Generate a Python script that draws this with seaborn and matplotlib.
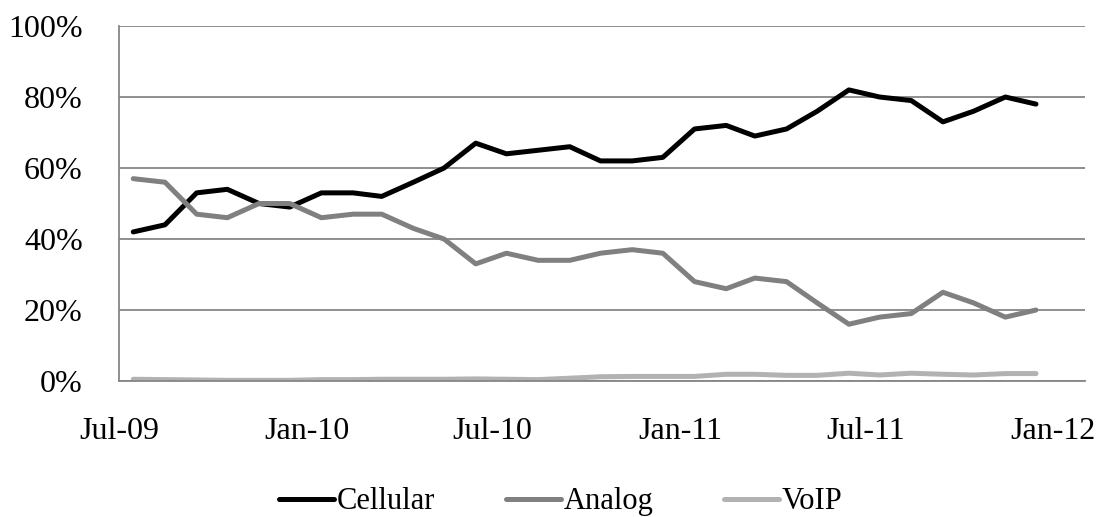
import pandas as pd
import numpy as np
import matplotlib
matplotlib.use('Agg')
import matplotlib.pyplot as plt
import matplotlib.dates as mdates
from matplotlib.ticker import PercentFormatter, MultipleLocator
import seaborn as sns

# monthly readings (mid-month), Jul 2009 - Dec 2011
months = pd.date_range('2009-07-01', periods=30, freq='MS') + pd.Timedelta(days=14)

cellular = [42, 44, 53, 54, 50, 49, 53, 53, 52, 56, 60, 67, 64, 65, 66,
            62, 62, 63, 71, 72, 69, 71, 76, 82, 80, 79, 73, 76, 80, 78]
analog = [57, 56, 47, 46, 50, 50, 46, 47, 47, 43, 40, 33, 36, 34, 34,
          36, 37, 36, 28, 26, 29, 28, 22, 16, 18, 19, 25, 22, 18, 20]
voip = [0.5, 0.4, 0.3, 0.2, 0.2, 0.2, 0.4, 0.4, 0.5, 0.5, 0.5, 0.6, 0.5, 0.4, 0.8,
        1.2, 1.3, 1.3, 1.3, 1.9, 1.9, 1.6, 1.6, 2.2, 1.7, 2.2, 1.9, 1.7, 2.1, 2.1]

series = ['Cellular', 'Analog', 'VoIP']
colors = ['#000000', '#808080', '#b2b2b2']


def long_form(dates, values, names):
    frames = []
    for name, vals in zip(names, values):
        frames.append(pd.DataFrame({'Date': dates, 'Share': np.array(vals) / 100.0, 'Type': name}))
    return pd.concat(frames, ignore_index=True)


df = long_form(months, [cellular, analog, voip], series)

sns.set_style('white')
plt.rcParams['font.family'] = ['Liberation Serif', 'DejaVu Serif']
plt.rcParams['text.color'] = 'black'
plt.rcParams['xtick.labelcolor'] = 'black'
plt.rcParams['ytick.labelcolor'] = 'black'

fig, ax = plt.subplots(figsize=(11.17, 5.17), dpi=100)
fig.subplots_adjust(left=0.1065, right=0.9714, top=0.9497, bottom=0.263)

sns.lineplot(data=df, x='Date', y='Share', hue='Type', hue_order=series,
             palette=colors, linewidth=3.6, ax=ax, legend=True)

grid_col = '#868686'
ax.set_ylim(0, 1)
ax.set_xlim(pd.Timestamp('2009-07-01'), pd.Timestamp('2012-02-01'))
ax.yaxis.set_major_locator(MultipleLocator(0.2))
ax.yaxis.set_major_formatter(PercentFormatter(1.0, decimals=0))
ax.xaxis.set_major_locator(mdates.MonthLocator(bymonth=[1, 7]))
ax.xaxis.set_major_formatter(mdates.DateFormatter('%b-%y'))

ax.grid(axis='y', color=grid_col, linewidth=1.3)
ax.set_axisbelow(True)
for side in ['top', 'right']:
    ax.spines[side].set_visible(False)
for side in ['left', 'bottom']:
    ax.spines[side].set_color(grid_col)
    ax.spines[side].set_linewidth(1.3)
ax.tick_params(axis='both', which='major', direction='out', length=7, width=1.3,
               color=grid_col, labelsize=23, labelcolor='black')
ax.tick_params(axis='x', pad=19)
ax.tick_params(axis='y', pad=19)
ax.set_xlabel('')
ax.set_ylabel('')

ax.legend(loc='lower center', bbox_to_anchor=(0.502, -0.052), bbox_transform=fig.transFigure,
          ncol=3, frameon=False, fontsize=22, handlelength=1.8, handletextpad=0.1,
          columnspacing=2.3, labelcolor='black')

fig.savefig('out.png', dpi=100)
